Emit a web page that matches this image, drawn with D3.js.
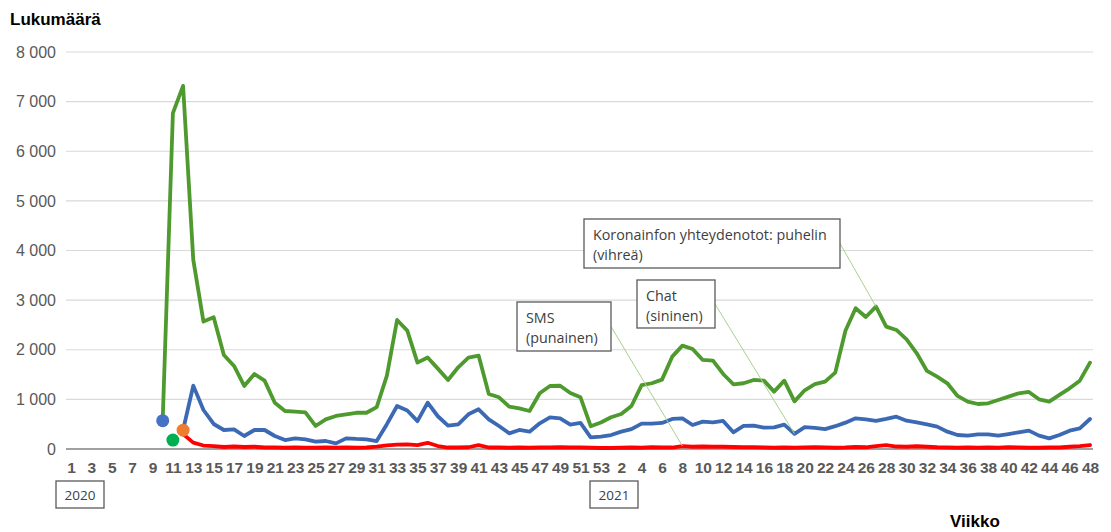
<!DOCTYPE html>
<html>
<head>
<meta charset="utf-8">
<script src="https://cdn.jsdelivr.net/npm/d3@7"></script>
<style>
  html, body { margin: 0; padding: 0; background: #fff; }
  svg { display: block; }
</style>
</head>
<body>
<svg id="chart" width="1111" height="532"></svg>
<script>
// ---- Data ----
const weeks2020 = [1,2,3,4,5,6,7,8,9,10,11,12,13,14,15,16,17,18,19,20,21,22,23,24,25,26,27,28,29,30,31,32,33,34,35,36,37,38,39,40,41,42,43,44,45,46,47,48,49,50,51,52,53];
const weeks2021 = [1,2,3,4,5,6,7,8,9,10,11,12,13,14,15,16,17,18,19,20,21,22,23,24,25,26,27,28,29,30,31,32,33,34,35,36,37,38,39,40,41,42,43,44,45,46,47,48];
const years = ["2020", "2021"];

// Koronainfon yhteydenotot: puhelin (vihreä)
const phone2020 = [null,null,null,null,null,null,null,null,null,585,6768,7318,3810,2567,2655,1895,1673,1270,1512,1377,933,766,753,740,464,597,665,699,730,730,845,1480,2600,2385,1740,1845,1620,1391,1647,1841,1882,1109,1042,853,820,766,1123,1270,1275,1128,1042,460,535];
const phone2021 = [639,706,867,1287,1325,1398,1861,2083,2016,1794,1780,1512,1304,1325,1391,1377,1156,1377,960,1183,1307,1358,1539,2382,2836,2660,2869,2466,2399,2211,1929,1573,1458,1324,1069,954,907,921,988,1055,1123,1149,1001,954,1089,1223,1377,1740];

// Chat (sininen)
const chat2020 = [null,null,null,null,null,null,null,null,null,null,null,383,1277,786,504,383,397,262,383,383,262,181,215,195,148,161,114,215,202,195,160,500,867,776,561,934,660,470,497,699,800,598,464,316,383,349,518,639,618,490,525,235,249];
const chat2021 = [282,349,400,511,511,525,605,618,484,551,538,565,336,464,470,430,437,490,306,440,427,400,460,531,618,598,565,605,652,571,538,497,450,349,282,269,296,296,269,302,336,370,269,215,282,370,417,605];

// SMS (punainen)
const sms2020 = [null,null,null,null,null,null,null,null,null,null,null,300,128,70,60,40,50,40,45,30,30,25,30,25,25,30,25,30,25,30,50,75,90,95,80,125,60,30,30,35,80,30,30,25,30,25,30,30,35,30,30,25,20];
const sms2021 = [20,25,30,25,35,30,30,60,45,50,45,45,40,35,35,30,25,30,25,30,35,30,25,30,40,35,60,80,50,45,55,45,35,30,25,30,25,30,25,35,30,25,25,30,30,45,60,80];

// First-point markers (week index, value)
const markerWeeks = [9, 10, 11];
const markerValues = [570, 180, 380];

const yTicks = [0,1000,2000,3000,4000,5000,6000,7000,8000];

const callouts = [
  { lines: ["Koronainfon yhteydenotot: puhelin", "(vihreä)"], series: "phone", target: 79 },
  { lines: ["Chat", "(sininen)"], series: "chat", target: 71 },
  { lines: ["SMS", "(punainen)"], series: "sms", target: 60 }
];

// ---- Build table ----
const cats = weeks2020.map(w => "2020-" + w).concat(weeks2021.map(w => "2021-" + w));
const labels = weeks2020.map(String).concat(weeks2021.map(String));
const series = {
  phone: phone2020.concat(phone2021),
  chat: chat2020.concat(chat2021),
  sms: sms2020.concat(sms2021)
};
const colors = { phone: "#4e9a2e", chat: "#3b69b4", sms: "#ff0000" };
const markerColors = ["#4472c4", "#00b050", "#ed7d31"];

// ---- Layout ----
const svg = d3.select("#chart");
const x = d3.scalePoint().domain(d3.range(cats.length)).range([71, 1090]);
const y = d3.scaleLinear().domain([0, 8000]).range([449, 52]);
const axisLeft = 66, axisRight = 1093;

// Gridlines
svg.append("g").selectAll("line").data(yTicks.filter(t => t > 0)).join("line")
  .attr("x1", axisLeft).attr("x2", axisRight)
  .attr("y1", d => y(d)).attr("y2", d => y(d))
  .attr("stroke", "#d9d9d9").attr("stroke-width", 1.2);

// Y axis labels
const fmt = v => d3.format(",")(v).replace(/,/g, " ");
const yAxis = d3.axisLeft(y).tickValues(yTicks).tickFormat(fmt).tickSize(0).tickPadding(0);
const gy = svg.append("g").attr("transform", "translate(56,0)").call(yAxis);
gy.select(".domain").remove();
gy.selectAll("text")
  .attr("font-family", "Liberation Sans, Arial, sans-serif")
  .attr("font-size", 16).attr("fill", "#595959");

// X axis
const xAxis = d3.axisBottom(x)
  .tickValues(d3.range(0, cats.length, 2))
  .tickFormat(i => labels[i]).tickSize(0).tickPadding(0);
const gx = svg.append("g").attr("transform", "translate(0,449)").call(xAxis);
gx.select(".domain").remove();
gx.selectAll("text")
  .attr("dy", 24)
  .attr("font-family", "Liberation Sans, Arial, sans-serif")
  .attr("font-weight", "bold")
  .attr("font-size", 15.5).attr("fill", "#595959");

// baseline
svg.append("line").attr("x1", axisLeft).attr("x2", axisRight)
  .attr("y1", y(0)).attr("y2", y(0))
  .attr("stroke", "#808080").attr("stroke-width", 1.6);

// Lines
const line = d3.line()
  .defined(d => d != null)
  .x((d, i) => x(i)).y(d => y(d));
["sms", "chat", "phone"].forEach(k => {
  svg.append("path").datum(series[k])
    .attr("d", line)
    .attr("fill", "none")
    .attr("stroke", colors[k])
    .attr("stroke-width", 3.8)
    .attr("stroke-linejoin", "round")
    .attr("stroke-linecap", "round");
});

// Markers
svg.append("g").selectAll("circle").data(markerWeeks).join("circle")
  .attr("cx", d => x(d)).attr("cy", (d, i) => y(markerValues[i]))
  .attr("r", 6.5).attr("fill", (d, i) => markerColors[i]);

// Year boxes
const yb = svg.append("g").selectAll("g").data(years).join("g");
yb.append("rect")
  .attr("x", (d, i) => i === 0 ? 56 : 590).attr("y", 481)
  .attr("width", 48).attr("height", 27)
  .attr("fill", "#fff").attr("stroke", "#595959").attr("stroke-width", 1.3);
yb.append("text")
  .attr("x", (d, i) => (i === 0 ? 56 : 590) + 24).attr("y", 499.5)
  .attr("text-anchor", "middle")
  .attr("font-family", "Open Sans, sans-serif").attr("font-size", 13.5)
  .attr("fill", "#404040").text(d => d);

// Callouts
const boxes = [
  { x: 584, y: 219, w: 256, h: 49 },
  { x: 637, y: 280, w: 78, h: 48 },
  { x: 517, y: 302, w: 94, h: 49 }
];
callouts.forEach((c, i) => {
  const b = boxes[i];
  const tx = x(c.target), ty = y(series[c.series][c.target]);
  svg.append("line")
    .attr("x1", b.x + b.w).attr("y1", b.y + b.h / 2)
    .attr("x2", tx).attr("y2", ty)
    .attr("stroke", "#a9d18e").attr("stroke-width", 1);
  svg.append("rect").attr("x", b.x).attr("y", b.y).attr("width", b.w).attr("height", b.h)
    .attr("fill", "#fff").attr("stroke", "#595959").attr("stroke-width", 1.3);
  c.lines.forEach((t, j) => {
    svg.append("text")
      .attr("x", b.x + 9).attr("y", b.y + 21 + j * 20)
      .attr("font-family", "Open Sans, sans-serif").attr("font-size", 14.3)
      .attr("fill", "#404040").text(t);
  });
});

// Titles
svg.append("text").attr("x", 10).attr("y", 25)
  .attr("font-family", "Liberation Sans, Arial, sans-serif")
  .attr("font-weight", "bold").attr("font-size", 17).attr("fill", "#000")
  .text("Lukumäärä");
svg.append("text").attr("x", 950).attr("y", 527)
  .attr("font-family", "Liberation Sans, Arial, sans-serif")
  .attr("font-weight", "bold").attr("font-size", 17).attr("fill", "#000")
  .text("Viikko");
</script>
</body>
</html>
